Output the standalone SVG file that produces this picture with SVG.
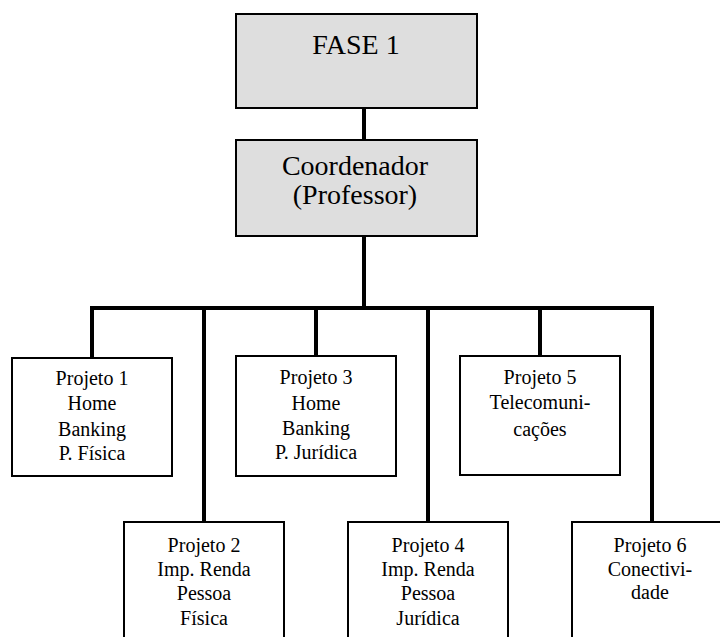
<svg xmlns="http://www.w3.org/2000/svg" width="720" height="637" viewBox="0 0 720 637">
  <style>
    .head { fill: #dedede; stroke: #000; stroke-width: 2; }
    .proj { fill: #fff; stroke: #000; stroke-width: 2; }
    .big { font-size: 28px; }
    .lbl { font-size: 20px; }
    .wire { stroke: #000; stroke-width: 4; fill: none; stroke-linecap: square; }
  </style>
  <rect width="720" height="637" fill="#fff"/>

  <!-- connectors -->
  <g id="connectors">
    <line class="wire" x1="364" y1="109" x2="364" y2="139"/>
    <line class="wire" x1="364" y1="237" x2="364" y2="308"/>
    <line class="wire" x1="92" y1="308" x2="652" y2="308"/>
    <line class="wire" x1="92" y1="308" x2="92" y2="357"/>
    <line class="wire" x1="204" y1="308" x2="204" y2="521"/>
    <line class="wire" x1="316" y1="308" x2="316" y2="355"/>
    <line class="wire" x1="428" y1="308" x2="428" y2="521"/>
    <line class="wire" x1="540" y1="308" x2="540" y2="355"/>
    <line class="wire" x1="652" y1="308" x2="652" y2="521"/>
  </g>

  <g font-family="Liberation Serif, Times New Roman, Times, Nimbus Roman, FreeSerif, Noto Serif, DejaVu Serif, serif" text-anchor="middle" fill="#000">
    <g id="fase1">
      <rect class="head" x="236" y="14" width="241" height="94"/>
      <text class="big" x="356" y="54">FASE 1</text>
    </g>

    <g id="coordenador">
      <rect class="head" x="236" y="140" width="241" height="96"/>
      <text class="big" x="355" y="175">Coordenador</text>
      <text class="big" x="355" y="204">(Professor)</text>
    </g>

    <g id="projeto1">
      <rect class="proj" x="12" y="358" width="160" height="118"/>
      <text class="lbl" x="92" y="385">Projeto 1</text>
      <text class="lbl" x="92" y="410">Home</text>
      <text class="lbl" x="92" y="436">Banking</text>
      <text class="lbl" x="92" y="460">P. Física</text>
    </g>

    <g id="projeto3">
      <rect class="proj" x="236" y="356" width="160" height="120"/>
      <text class="lbl" x="316" y="384">Projeto 3</text>
      <text class="lbl" x="316" y="410">Home</text>
      <text class="lbl" x="316" y="435">Banking</text>
      <text class="lbl" x="316" y="459">P. Jurídica</text>
    </g>

    <g id="projeto5">
      <rect class="proj" x="460" y="356" width="160" height="119"/>
      <text class="lbl" x="540" y="384">Projeto 5</text>
      <text class="lbl" x="540" y="409">Telecomuni-</text>
      <text class="lbl" x="540" y="436">cações</text>
    </g>

    <g id="projeto2">
      <rect class="proj" x="124" y="522" width="160" height="130"/>
      <text class="lbl" x="204" y="552">Projeto 2</text>
      <text class="lbl" x="204" y="576">Imp. Renda</text>
      <text class="lbl" x="204" y="600">Pessoa</text>
      <text class="lbl" x="204" y="625">Física</text>
    </g>

    <g id="projeto4">
      <rect class="proj" x="348" y="522" width="160" height="130"/>
      <text class="lbl" x="428" y="552">Projeto 4</text>
      <text class="lbl" x="428" y="576">Imp. Renda</text>
      <text class="lbl" x="428" y="600">Pessoa</text>
      <text class="lbl" x="428" y="625">Jurídica</text>
    </g>

    <g id="projeto6">
      <rect class="proj" x="572" y="522" width="160" height="130"/>
      <text class="lbl" x="650" y="552">Projeto 6</text>
      <text class="lbl" x="650" y="576">Conectivi-</text>
      <text class="lbl" x="650" y="599">dade</text>
    </g>
  </g>
</svg>
